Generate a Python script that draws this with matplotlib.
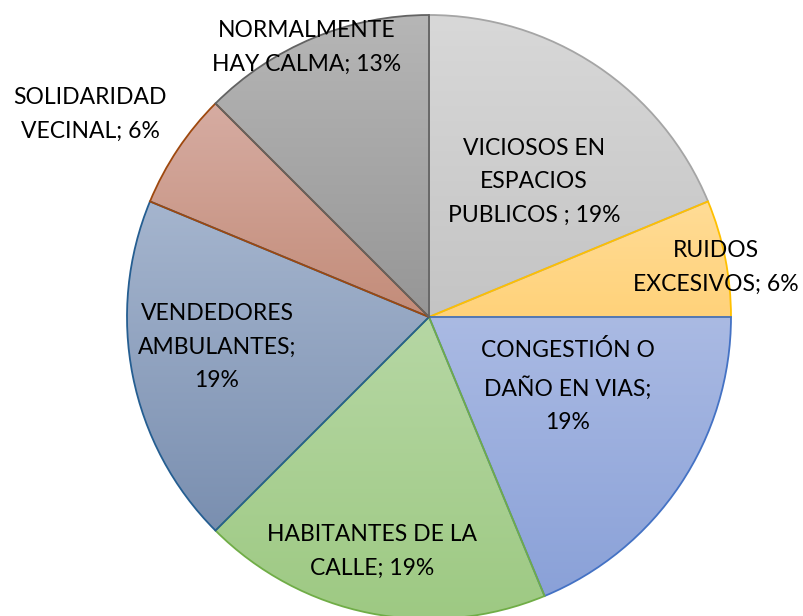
import matplotlib.pyplot as plt
import numpy as np
from matplotlib.colors import to_rgb

# respuestas por categoria (16 en total)
categorias = ["VICIOSOS EN\nESPACIOS\nPUBLICOS ; 19%",
              "RUIDOS\nEXCESIVOS; 6%",
              "CONGESTIÓN O\nDAÑO EN VIAS;\n19%",
              "HABITANTES DE LA\nCALLE; 19%",
              "VENDEDORES\nAMBULANTES;\n19%",
              "SOLIDARIDAD\nVECINAL; 6%",
              "NORMALMENTE\nHAY CALMA; 13%"]
conteos = [3, 1, 3, 3, 3, 1, 2]

bordes = ["#a5a5a5", "#ffc000", "#4472c4", "#70ad47", "#255e91", "#9e480e", "#636363"]
arriba = ["#d8d8d8", "#ffdc96", "#aabae3", "#b6d7a4", "#a5b5ce", "#d6aca2", "#b6b6b6"]
abajo = ["#c4c4c4", "#ffd27a", "#8aa1d8", "#9dc982", "#7a8fb0", "#c38c79", "#969696"]

# posiciones de las etiquetas (pixeles desde arriba)
pos_x = [534, 716, 568, 372, 217, 90, 307]
pos_y = [182, 267, 386, 551, 347, 114, 47]

W, H = 804, 616
fig = plt.figure(figsize=(W / 100, H / 100), dpi=100)
ax = fig.add_axes([0, 0, 1, 1])

centro = (429, H - 317)
wedges, _ = ax.pie(conteos, startangle=90, counterclock=False, radius=302,
                   center=centro, colors=["none"] * len(conteos),
                   wedgeprops=dict(linewidth=1.3))

for w, ec, c1, c2 in zip(wedges, bordes, arriba, abajo):
    w.set_edgecolor(ec)
    w.set_facecolor("none")
    w.set_zorder(3)
    v = w.get_path().vertices
    x0, x1 = v[:, 0].min(), v[:, 0].max()
    y0, y1 = v[:, 1].min(), v[:, 1].max()
    t = np.linspace(0, 1, 200)[:, None]
    grad = (1 - t) * np.array(to_rgb(c2)) + t * np.array(to_rgb(c1))
    im = ax.imshow(grad[:, None, :], extent=(x0, x1, y0, y1), origin="lower",
                   aspect="auto", zorder=2, interpolation="bilinear")
    im.set_clip_path(w)

for txt, x, y in zip(categorias, pos_x, pos_y):
    ax.text(x, H - y, txt, ha="center", va="center", fontsize=16.5,
            family=["Lato", "DejaVu Sans"], linespacing=1.75, zorder=5)

ax.set_xlim(0, W)
ax.set_ylim(0, H)
ax.set_aspect("equal")
ax.axis("off")
fig.savefig("out.png", dpi=100)
